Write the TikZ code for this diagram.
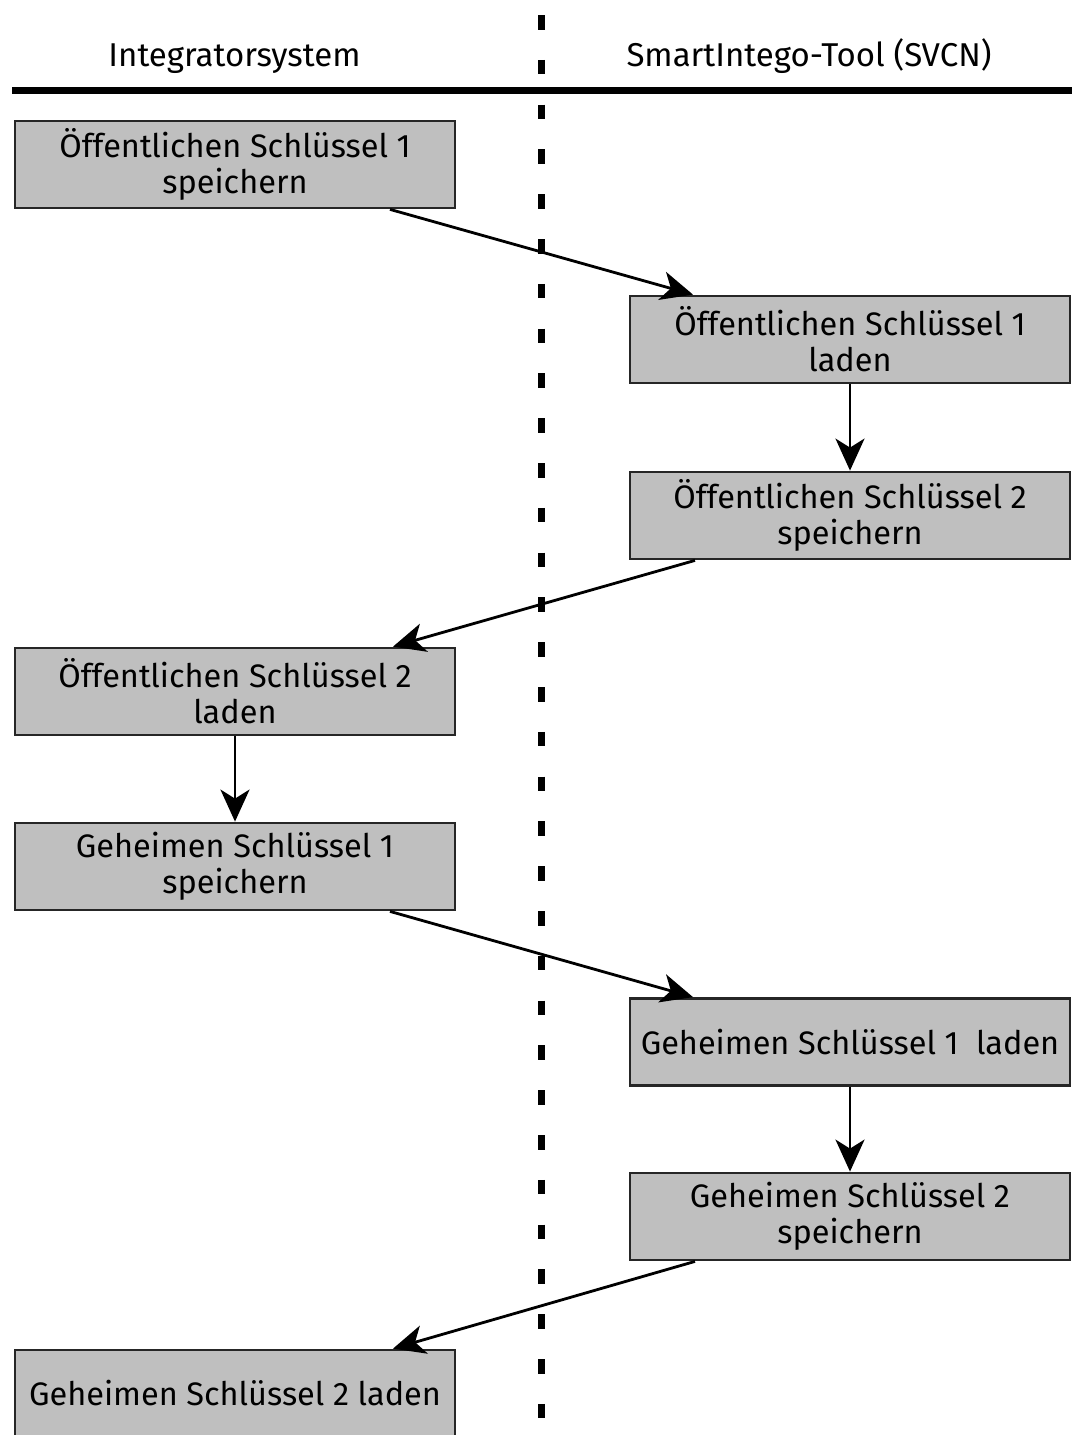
\documentclass[tikz,border=0pt]{standalone}
\usepackage{fontspec}
\setmainfont{Fira Sans}
\usetikzlibrary{arrows.meta,calc}
\begin{document}
\begin{tikzpicture}[x=1pt,y=-1pt,
  stepbox/.style={draw=black!85,fill=black!25,line width=2.8pt,minimum width=440pt,minimum height=87pt,
    inner sep=0pt,align=center,font=\fontsize{32.5}{36}\selectfont},
  header/.style={font=\fontsize{33}{36}\selectfont,anchor=base},
  flow/.style={line width=2.8pt,-{Stealth[length=32pt,width=29pt,inset=9pt]}},
  lane/.style={line width=7pt,dash pattern=on 14.5pt off 30.3pt,dash phase=-15pt},
  rule/.style={line width=7pt}]
\useasboundingbox (0,0) rectangle (1077,1435);
\clip (0,0) rectangle (1077,1435);
\coordinate (lt) at (541.5,0);
\coordinate (lb) at (541.5,1435);
\coordinate (hl) at (12,90.5);
\coordinate (hr) at (1072,90.5);
\draw[lane] (lt) -- (lb);
\draw[rule] (hl) -- (hr);
\node[header] (h1) at (234.5,66) {Integratorsystem};
\node[header] (h2) at (809,66) {SmartIntego-Tool (SVCN)};
\node[stepbox] (b1) at (235,164.5) {Öffentlichen Schlüssel 1\\speichern};
\node[stepbox] (b2) at (850,339.5) {Öffentlichen Schlüssel 1\\laden};
\node[stepbox] (b3) at (850,515.5) {Öffentlichen Schlüssel 2\\speichern};
\node[stepbox] (b4) at (235,691.5) {Öffentlichen Schlüssel 2\\laden};
\node[stepbox] (b5) at (235,866.5) {Geheimen Schlüssel 1\\speichern};
\node[stepbox] (b6) at (850,1042) {Geheimen Schlüssel 1\ \ laden};
\node[stepbox] (b7) at (850,1216.5) {Geheimen Schlüssel 2\\speichern};
\node[stepbox] (b8) at (235,1393.5) {Geheimen Schlüssel 2 laden};
\draw[flow] ([xshift=155pt]b1.south) -- ([xshift=-157pt]b2.north);
\draw[flow] (b2) -- (b3);
\draw[flow] ([xshift=-155pt]b3.south) -- ([xshift=158pt]b4.north);
\draw[flow] (b4) -- (b5);
\draw[flow] ([xshift=155pt]b5.south) -- ([xshift=-157pt]b6.north);
\draw[flow] (b6) -- (b7);
\draw[flow] ([xshift=-155pt]b7.south) -- ([xshift=158pt]b8.north);
\end{tikzpicture}
\end{document}
